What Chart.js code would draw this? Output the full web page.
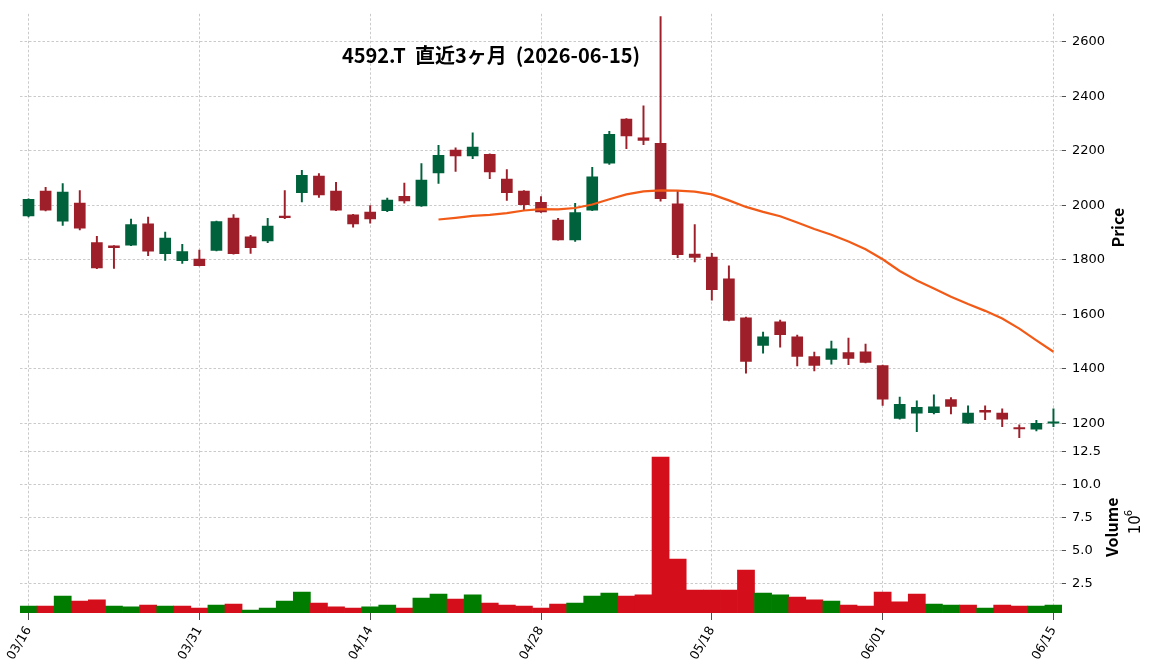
<!DOCTYPE html>
<html>
<head>
<meta charset="utf-8">
<script src="https://cdn.jsdelivr.net/npm/chart.js@4.4.1/dist/chart.umd.min.js"></script>
<style>
  html, body { margin: 0; padding: 0; background: #fff; }
</style>
</head>
<body>
<canvas id="stock" width="1156" height="670"></canvas>
<script>
// trading days shown on the chart
const dates = [
  '03/16','03/17','03/18','03/19','03/23','03/24','03/25','03/26','03/27','03/30',
  '03/31','04/01','04/02','04/03','04/06','04/07','04/08','04/09','04/10','04/13',
  '04/14','04/15','04/16','04/17','04/20','04/21','04/22','04/23','04/24','04/27',
  '04/28','04/30','05/01','05/07','05/08','05/11','05/12','05/13','05/14','05/15',
  '05/18','05/19','05/20','05/21','05/22','05/25','05/26','05/27','05/28','05/29',
  '06/01','06/02','06/03','06/04','06/05','06/08','06/09','06/10','06/11','06/12',
  '06/15'
];
const openP = [
  1961,2052,1942,2008,1863,1851,1854,1932,1823,1797,
  1803,1835,1953,1884,1869,1960,2046,2107,2052,1965,
  1975,1980,2033,1998,2119,2202,2181,2187,2096,2052,
  2011,1946,1873,1982,2154,2316,2247,2227,2005,1821,
  1810,1730,1587,1486,1573,1518,1445,1435,1460,1463,
  1412,1219,1238,1240,1288,1201,1248,1238,1185,1179,
  1201
];
const highP = [
  2024,2066,2080,2054,1886,1852,1949,1957,1902,1857,
  1836,1942,1966,1890,1952,2054,2128,2116,2084,1967,
  1999,2026,2081,2153,2220,2211,2266,2189,2131,2054,
  2032,1952,2007,2139,2271,2318,2365,2692,2052,1929,
  1824,1778,1590,1535,1579,1524,1462,1502,1513,1491,
  1414,1297,1283,1305,1295,1265,1265,1254,1195,1212,
  1254
];
const lowP = [
  1957,1979,1926,1910,1768,1769,1852,1815,1798,1787,
  1778,1833,1821,1824,1863,1951,2012,2029,1980,1920,
  1934,1977,2008,1996,2080,2124,2171,2098,2018,1981,
  1974,1872,1868,1980,2150,2208,2222,2015,1808,1792,
  1652,1576,1385,1458,1480,1411,1393,1418,1416,1422,
  1266,1216,1170,1235,1235,1200,1214,1188,1148,1173,
  1188
];
const closeP = [
  2022,1982,2048,1916,1770,1845,1929,1832,1880,1830,
  1779,1940,1823,1845,1924,1955,2110,2038,1982,1932,
  1950,2019,2016,2092,2183,2181,2213,2122,2046,2002,
  1976,1873,1973,2104,2260,2254,2238,2024,1819,1809,
  1691,1578,1428,1518,1526,1446,1413,1474,1439,1424,
  1289,1270,1259,1261,1263,1238,1242,1216,1180,1201,
  1206
];
// volume in millions of shares
const volume = [
  0.78,0.78,1.54,1.16,1.24,0.78,0.71,0.86,0.78,0.78,
  0.63,0.86,0.93,0.48,0.63,1.16,1.84,1.01,0.71,0.63,
  0.71,0.86,0.63,1.39,1.69,1.31,1.62,1.01,0.86,0.78,
  0.63,0.93,1.01,1.54,1.77,1.54,1.62,12.07,4.34,1.99,
  1.99,1.99,3.51,1.77,1.62,1.46,1.24,1.16,0.86,0.78,
  1.84,1.09,1.69,0.93,0.86,0.86,0.63,0.86,0.78,0.78,
  0.86
];
// 25-day moving average as drawn
const ma25 = [
  null,null,null,null,null,null,null,null,null,null,
  null,null,null,null,null,null,null,null,null,null,
  null,null,null,null,1948,1954,1961,1965,1971,1981,
  1986,1985,1990,2003,2022,2040,2051,2055,2054,2050,
  2040,2018,1994,1976,1960,1937,1913,1892,1867,1839,
  1802,1759,1724,1695,1665,1638,1613,1585,1548,1505,
  1463
];
const dateTicks = ['03/16','03/31','04/14','04/28','05/18','06/01','06/15'];
const priceTicks = [1200,1400,1600,1800,2000,2200,2400,2600];
const volumeTicks = [2.5,5,7.5,10,12.5];

const titleText = '4592.T  直近3ヶ月  (2026-06-15)';

const upBody = '#00623c', downBody = '#9e1f29';
const upVol = '#007d00', downVol = '#d40f1b';

const bodyColors = openP.map((o, i) => closeP[i] >= o ? upBody : downBody);
const volColors = closeP.map((c, i) => (i === 0 || c >= closeP[i - 1]) ? upVol : downVol);

const gridColor = '#bdbdbd';
const tickFont = { family: '"DejaVu Sans"', size: 13 };

// axis titles and chart title drawn on top
const textPlugin = {
  id: 'texts',
  afterDraw(chart) {
    const ctx = chart.ctx;
    const yp = chart.scales.y, yv = chart.scales.yv;
    ctx.save();
    ctx.fillStyle = '#000';
    ctx.textAlign = 'center';
    ctx.textBaseline = 'middle';
    ctx.font = 'bold 20px "Noto Sans CJK JP"';
    ctx.fillText(titleText, 491, 55);

    ctx.font = 'bold 16px "Noto Sans CJK JP"';
    ctx.save();
    ctx.translate(1118, (yp.top + yp.bottom) / 2);
    ctx.rotate(-Math.PI / 2);
    ctx.fillText('Price', 0, 0);
    ctx.restore();

    ctx.save();
    ctx.translate(1112, (yv.top + yv.bottom) / 2);
    ctx.rotate(-Math.PI / 2);
    ctx.fillText('Volume', 0, 0);
    ctx.restore();

    ctx.save();
    ctx.translate(1136, (yv.top + yv.bottom) / 2 - 3);
    ctx.rotate(-Math.PI / 2);
    ctx.font = '15px "DejaVu Sans"';
    ctx.textAlign = 'left';
    ctx.fillText('10', -10, 0);
    ctx.font = '10px "DejaVu Sans"';
    ctx.fillText('6', 8, -7);
    ctx.restore();
    ctx.restore();
  }
};

new Chart(document.getElementById('stock'), {
  type: 'bar',
  data: {
    labels: dates,
    datasets: [
      {
        type: 'line',
        label: 'MA25',
        data: ma25,
        yAxisID: 'y',
        borderColor: '#f25a17',
        borderWidth: 2.2,
        pointRadius: 0,
        fill: false,
        order: 0
      },
      {
        label: 'body',
        data: openP.map((o, i) => [o, closeP[i]]),
        yAxisID: 'y',
        backgroundColor: bodyColors,
        barThickness: 11,
        grouped: false,
        order: 1
      },
      {
        label: 'wick',
        data: lowP.map((l, i) => [l, highP[i]]),
        yAxisID: 'y',
        backgroundColor: bodyColors,
        barThickness: 1.3,
        grouped: false,
        order: 2
      },
      {
        label: 'Volume',
        data: volume,
        yAxisID: 'yv',
        backgroundColor: volColors,
        barPercentage: 1,
        categoryPercentage: 1,
        grouped: false,
        order: 3
      }
    ]
  },
  options: {
    responsive: false,
    devicePixelRatio: 1,
    animation: false,
    layout: { padding: { top: 12, left: 20, right: 0, bottom: 0 } },
    plugins: {
      legend: { display: false },
      tooltip: { enabled: false }
    },
    scales: {
      x: {
        offset: true,
        grid: {
          offset: false,
          color: gridColor,
          lineWidth: 0.8,
          tickColor: '#222',
          tickLength: 7
        },
        border: { display: false, dash: [2.5, 2] },
        ticks: {
          autoSkip: false,
          minRotation: 60,
          maxRotation: 60,
          color: '#000',
          font: { family: '"DejaVu Sans"', size: 12.5 },
          padding: 4
        },
        afterBuildTicks(scale) {
          scale.ticks = scale.ticks.filter(t => dateTicks.includes(dates[t.value]));
        },
        afterFit(scale) {
          scale.height = 57;
          scale.paddingLeft = 0;
          scale.paddingRight = 0;
        }
      },
      y: {
        position: 'right',
        stack: 'panels',
        stackWeight: 429,
        min: 1134,
        max: 2702,
        grid: {
          color: gridColor,
          lineWidth: 0.8,
          tickColor: '#222',
          tickLength: 4
        },
        border: { display: false, dash: [2.5, 2] },
        ticks: {
          color: '#000',
          font: tickFont,
          padding: 6,
          callback: v => String(v)
        },
        afterBuildTicks(scale) {
          scale.ticks = priceTicks.map(v => ({ value: v }));
        },
        afterFit(scale) { scale.width = 94; }
      },
      yv: {
        position: 'right',
        stack: 'panels',
        stackWeight: 172,
        min: 0.25,
        max: 13.26,
        grid: {
          color: gridColor,
          lineWidth: 0.8,
          tickColor: '#222',
          tickLength: 4
        },
        border: { display: false, dash: [2.5, 2] },
        ticks: {
          color: '#000',
          font: tickFont,
          padding: 6,
          callback: v => v.toFixed(1)
        },
        afterBuildTicks(scale) {
          scale.ticks = volumeTicks.map(v => ({ value: v }));
        },
        afterFit(scale) { scale.width = 94; }
      }
    }
  },
  plugins: [textPlugin]
});
</script>
</body>
</html>
